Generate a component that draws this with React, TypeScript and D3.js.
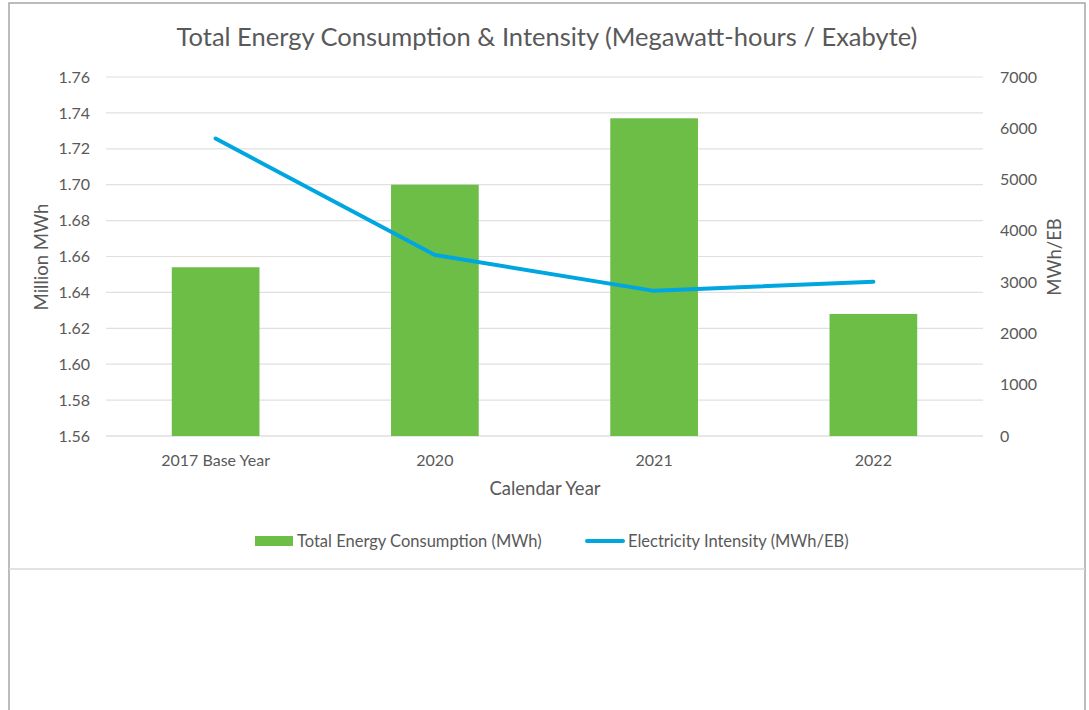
import React, { useEffect, useRef } from "react";
import * as d3 from "d3";

// chart data
const categories = ["2017 Base Year", "2020", "2021", "2022"];
const energyMWh = [1.654, 1.7, 1.737, 1.628];
const intensity = [5800, 3530, 2830, 3010];
const leftTicks = [1.56, 1.58, 1.6, 1.62, 1.64, 1.66, 1.68, 1.7, 1.72, 1.74, 1.76];
const rightTicks = [0, 1000, 2000, 3000, 4000, 5000, 6000, 7000];

const FONT = "Lato, Carlito, 'Open Sans', sans-serif";
const TXT = "#595959";

const App = () => {
  const ref = useRef<SVGSVGElement>(null);

  useEffect(() => {
    const svg = d3.select(ref.current);
    svg.selectAll("*").remove();

    const margin = { left: 106, right: 983, top: 77, bottom: 436 };

    // frame
    svg.append("rect")
      .attr("x", 9).attr("y", 3).attr("width", 1076).attr("height", 720)
      .attr("fill", "#fff").attr("stroke", "#a6a6a6").attr("stroke-width", 1.5);
    svg.append("line")
      .attr("x1", 9).attr("x2", 1085).attr("y1", 569).attr("y2", 569)
      .attr("stroke", "#d9d9d9").attr("stroke-width", 1.5);

    const x = d3.scaleBand<string>().domain(categories).range([margin.left, margin.right]);
    const yL = d3.scaleLinear().domain([1.56, 1.76]).range([margin.bottom, margin.top]);
    const yR = d3.scaleLinear().domain([0, 7000]).range([margin.bottom, margin.top]);

    // gridlines
    svg.append("g")
      .selectAll("line")
      .data(leftTicks)
      .join("line")
      .attr("x1", margin.left).attr("x2", margin.right)
      .attr("y1", (d) => yL(d)).attr("y2", (d) => yL(d))
      .attr("stroke", (d) => (d === 1.56 ? "#d0d0d0" : "#e0e0e0"))
      .attr("stroke-width", 1.2);

    // left ticks
    svg.append("g")
      .selectAll("text")
      .data(leftTicks)
      .join("text")
      .attr("x", 90).attr("y", (d) => yL(d))
      .attr("dy", "0.35em").attr("text-anchor", "end")
      .attr("font-family", FONT).attr("font-size", 16).attr("fill", TXT)
      .text((d) => d3.format(".2f")(d));

    // right ticks
    svg.append("g")
      .selectAll("text")
      .data(rightTicks)
      .join("text")
      .attr("x", 1000).attr("y", (d) => yR(d))
      .attr("dy", "0.35em").attr("text-anchor", "start")
      .attr("font-family", FONT).attr("font-size", 16).attr("fill", TXT)
      .text((d) => String(d));

    // bars
    const barW = x.bandwidth() * 0.4;
    svg.append("g")
      .attr("fill", "#6dbe47")
      .selectAll("rect")
      .data(energyMWh)
      .join("rect")
      .attr("x", (d, i) => x(categories[i])! + x.bandwidth() / 2 - barW / 2)
      .attr("y", (d) => yL(d))
      .attr("width", barW)
      .attr("height", (d) => yL(1.56) - yL(d));

    // line
    const line = d3.line<number>()
      .x((d, i) => x(categories[i])! + x.bandwidth() / 2)
      .y((d) => yR(d));
    svg.append("path")
      .datum(intensity)
      .attr("d", line)
      .attr("fill", "none")
      .attr("stroke", "#00a6e0")
      .attr("stroke-width", 4)
      .attr("stroke-linejoin", "round")
      .attr("stroke-linecap", "round");

    // category labels
    svg.append("g")
      .selectAll("text")
      .data(categories)
      .join("text")
      .attr("x", (d) => x(d)! + x.bandwidth() / 2).attr("y", 466)
      .attr("text-anchor", "middle")
      .attr("font-family", FONT).attr("font-size", 16).attr("fill", TXT)
      .text((d) => d);

    // title & axis labels
    svg.append("text")
      .attr("x", 547).attr("y", 46).attr("text-anchor", "middle")
      .attr("font-family", FONT).attr("font-size", 25.5).attr("fill", TXT)
      .text("Total Energy Consumption & Intensity (Megawatt-hours / Exabyte)");
    svg.append("text")
      .attr("x", 545).attr("y", 495).attr("text-anchor", "middle")
      .attr("font-family", FONT).attr("font-size", 18.5).attr("fill", TXT)
      .text("Calendar Year");
    svg.append("text")
      .attr("transform", "translate(48,257) rotate(-90)").attr("text-anchor", "middle")
      .attr("font-family", FONT).attr("font-size", 18.5).attr("fill", TXT)
      .text("Million MWh");
    svg.append("text")
      .attr("transform", "translate(1061,257) rotate(-90)").attr("text-anchor", "middle")
      .attr("font-family", FONT).attr("font-size", 18.5).attr("fill", TXT)
      .text("MWh/EB");

    // legend
    const lg = svg.append("g");
    lg.append("rect").attr("x", 255).attr("y", 536).attr("width", 38).attr("height", 10).attr("fill", "#6dbe47");
    lg.append("text").attr("x", 297).attr("y", 547)
      .attr("font-family", FONT).attr("font-size", 16.5).attr("fill", TXT)
      .text("Total Energy Consumption (MWh)");
    lg.append("line").attr("x1", 587).attr("x2", 623).attr("y1", 541).attr("y2", 541)
      .attr("stroke", "#00a6e0").attr("stroke-width", 4).attr("stroke-linecap", "round");
    lg.append("text").attr("x", 628).attr("y", 547)
      .attr("font-family", FONT).attr("font-size", 16.5).attr("fill", TXT)
      .text("Electricity Intensity (MWh/EB)");
  }, []);

  return (
    <svg
      ref={ref}
      width={1089}
      height={710}
      style={{ position: "absolute", left: 0, top: 0, background: "#fff" }}
    />
  );
};

export default App;
